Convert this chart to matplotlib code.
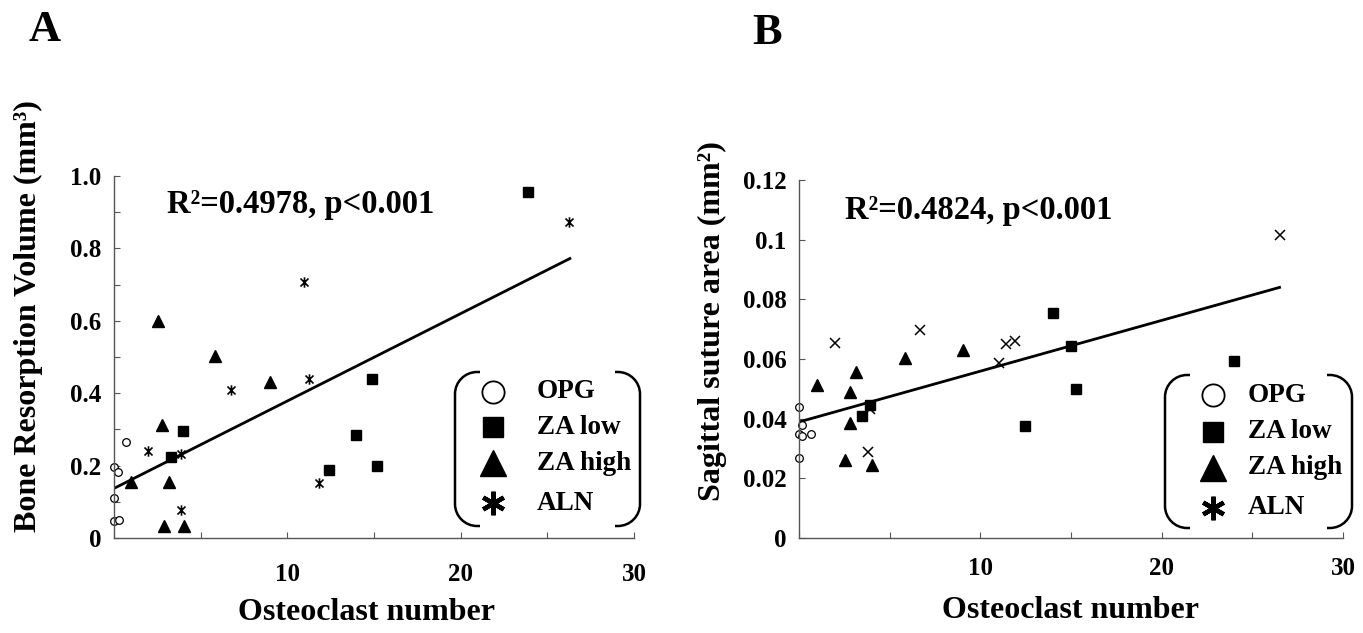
import matplotlib
matplotlib.use("Agg")
import matplotlib.pyplot as plt
from matplotlib.path import Path
from matplotlib.patches import PathPatch
from matplotlib.lines import Line2D

W, H = 1363, 633
plt.rcParams['font.family'] = ['Liberation Serif', 'DejaVu Serif']
plt.rcParams['font.weight'] = 'bold'

# panel A: bone resorption volume vs osteoclast number
opg_a_x = [0.67, 0.0, 0.25, 0.0, 0.0, 0.29]
opg_a_y = [0.265, 0.196, 0.182, 0.110, 0.046, 0.051]
zal_a_x = [3.27, 4.0, 12.42, 13.94, 14.9, 15.19, 23.9]
zal_a_y = [0.224, 0.295, 0.187, 0.284, 0.438, 0.198, 0.956]
zah_a_x = [0.96, 2.52, 2.79, 3.19, 2.88, 4.06, 5.83, 9.0]
zah_a_y = [0.155, 0.599, 0.313, 0.155, 0.033, 0.032, 0.502, 0.431]
aln_a_x = [1.98, 3.85, 3.85, 6.73, 10.98, 11.27, 11.85, 26.26]
aln_a_y = [0.240, 0.233, 0.078, 0.408, 0.707, 0.440, 0.152, 0.873]
fit_a_x = [0, 26.3]
fit_a_y = [0.137, 0.772]

# panel B: sagittal suture area vs osteoclast number
opg_b_x = [0.0, 0.0, 0.18, 0.18, 0.64, 0.0]
opg_b_y = [0.044, 0.035, 0.0378, 0.0342, 0.035, 0.0268]
zal_b_x = [3.47, 3.93, 12.48, 14.0, 15.02, 15.26, 24.0]
zal_b_y = [0.0408, 0.0445, 0.0375, 0.0753, 0.0644, 0.0499, 0.0593]
zah_b_x = [0.99, 2.79, 3.16, 2.79, 2.56, 4.03, 5.83, 9.04]
zah_b_y = [0.0512, 0.049, 0.0555, 0.0387, 0.0261, 0.0244, 0.0602, 0.063]
aln_b_x = [2.0, 6.65, 3.8, 3.93, 11.01, 11.43, 11.89, 26.5]
aln_b_y = [0.0655, 0.0697, 0.0289, 0.0431, 0.0587, 0.065, 0.0661, 0.1015]
fit_b_x = [0, 26.5]
fit_b_y = [0.0389, 0.084]

groups = ['OPG', 'ZA low', 'ZA high', 'ALN']
xtick_vals = [0, 5, 10, 15, 20, 25, 30]
xtick_labels = ['', '', '10', '', '20', '', '30']
ytick_a_vals = [0, 0.1, 0.2, 0.3, 0.4, 0.5, 0.6, 0.7, 0.8, 0.9, 1.0]
ytick_a_labels = ['0', '', '0.2', '', '0.4', '', '0.6', '', '0.8', '', '1.0']
ytick_b_vals = [0, 0.02, 0.04, 0.06, 0.08, 0.1, 0.12]
ytick_b_labels = ['0', '0.02', '0.04', '0.06', '0.08', '0.1', '0.12']

# excel-like star: X with a vertical bar
star = Path([(-1, -1), (1, 1), (-1, 1), (1, -1), (0, -1.3), (0, 1.3)],
            [Path.MOVETO, Path.LINETO, Path.MOVETO, Path.LINETO, Path.MOVETO, Path.LINETO])


def fx(px):
    return px / W


def fy(py):
    return 1 - py / H


def style_axes(ax, yvals, ylabels, ylim, xpad):
    ax.set_xlim(0, 30)
    ax.set_ylim(*ylim)
    for s in ['top', 'right']:
        ax.spines[s].set_visible(False)
    for s in ['left', 'bottom']:
        ax.spines[s].set_color('#555555')
        ax.spines[s].set_linewidth(1.0)
    ax.set_xticks(xtick_vals)
    ax.set_xticklabels(xtick_labels)
    ax.set_yticks(yvals)
    ax.set_yticklabels(ylabels)
    ax.tick_params(axis='both', direction='in', length=4.5, width=0.8,
                   color='#555555', labelsize=18)
    ax.tick_params(axis='x', pad=xpad)
    ax.tick_params(axis='y', pad=9)
    for lab in ax.get_xticklabels() + ax.get_yticklabels():
        lab.set_fontweight('bold')


def legend_box(x0, x1, ytop, ybot, rows):
    r = 22
    k = 0.55 * r
    tail = 3
    left = Path([(x0 + r + tail, ytop), (x0 + r, ytop), (x0 + r - k, ytop), (x0, ytop + r - k), (x0, ytop + r),
                 (x0, ybot - r), (x0, ybot - r + k), (x0 + r - k, ybot), (x0 + r, ybot), (x0 + r + tail, ybot)],
                [Path.MOVETO, Path.LINETO, Path.CURVE4, Path.CURVE4, Path.CURVE4,
                 Path.LINETO, Path.CURVE4, Path.CURVE4, Path.CURVE4, Path.LINETO])
    right = Path([(x1 - r - tail, ytop), (x1 - r, ytop), (x1 - r + k, ytop), (x1, ytop + r - k), (x1, ytop + r),
                  (x1, ybot - r), (x1, ybot - r + k), (x1 - r + k, ybot), (x1 - r, ybot), (x1 - r - tail, ybot)],
                 left.codes)
    for p in [left, right]:
        verts = [(fx(a), fy(b)) for a, b in p.vertices]
        fig.add_artist(PathPatch(Path(verts, p.codes), transform=fig.transFigure,
                                 fill=False, lw=1.8, ec='black'))
    mx, tx, ys = rows
    specs = [dict(marker='o', ms=16, mfc='white', mec='black', mew=1.3),
             dict(marker='s', ms=15, mfc='black', mec='black'),
             dict(marker='^', ms=19, mfc='black', mec='black'),
             dict(marker=(6, 2, 0), ms=17, mec='black', mew=3.2)]
    for name, spec, yy in zip(groups, specs, ys):
        fig.add_artist(Line2D([fx(mx)], [fy(yy)], transform=fig.transFigure, ls='none', **spec))
        fig.text(fx(tx), fy(yy), name, fontsize=19.5, fontweight='bold', ha='left', va='center')


fig = plt.figure(figsize=(W / 100, H / 100), dpi=100)

# ---- panel A
axa = fig.add_axes([fx(114), fy(538), fx(634) - fx(114), fy(176) - fy(538)])
axa.plot(fit_a_x, fit_a_y, color='black', lw=2.0)
axa.plot(opg_a_x, opg_a_y, 'o', ms=5.5, mfc='white', mec='black', mew=0.9, clip_on=False)
axa.plot(zal_a_x, zal_a_y, 's', ms=7.5, color='black', clip_on=False)
axa.plot(zah_a_x, zah_a_y, '^', ms=9, color='black', clip_on=False)
axa.plot(aln_a_x, aln_a_y, ls='none', marker=star, ms=7.5, mec='black', mew=1.2, clip_on=False)
style_axes(axa, ytick_a_vals, ytick_a_labels, (0, 1.0), 18)
fig.text(fx(167), fy(204), 'R²=0.4978, p<0.001', fontsize=23.5, fontweight='bold', ha='left', va='center')
fig.text(fx(366), fy(613), 'Osteoclast number', fontsize=23, fontweight='bold', ha='center', va='center')
fig.text(fx(28), fy(316), 'Bone Resorption Volume (mm³)', fontsize=23, fontweight='bold',
         ha='center', va='center', rotation=90)
fig.text(fx(45), fy(30), 'A', fontsize=32, fontweight='bold', ha='center', va='center')
legend_box(455, 640, 372, 526, (493, 537, [392, 427, 463, 503]))

# ---- panel B
axb = fig.add_axes([fx(799), fy(538), fx(1343) - fx(799), fy(180) - fy(538)])
axb.plot(fit_b_x, fit_b_y, color='black', lw=2.0)
axb.plot(opg_b_x, opg_b_y, 'o', ms=5.5, mfc='white', mec='black', mew=0.9, clip_on=False)
axb.plot(zal_b_x, zal_b_y, 's', ms=7.5, color='black', clip_on=False)
axb.plot(zah_b_x, zah_b_y, '^', ms=9, color='black', clip_on=False)
axb.plot(aln_b_x, aln_b_y, 'x', ms=7, mec='black', mew=1.1, clip_on=False)
style_axes(axb, ytick_b_vals, ytick_b_labels, (0, 0.12), 14)
fig.text(fx(845), fy(211), 'R²=0.4824, p<0.001', fontsize=23.5, fontweight='bold', ha='left', va='center')
fig.text(fx(1071), fy(610), 'Osteoclast number', fontsize=23, fontweight='bold', ha='center', va='center')
fig.text(fx(712), fy(321), 'Sagittal suture area (mm²)', fontsize=23, fontweight='bold',
         ha='center', va='center', rotation=90)
fig.text(fx(767), fy(33), 'B', fontsize=32, fontweight='bold', ha='center', va='center')
legend_box(1165, 1352, 375, 528, (1213, 1248, [395, 432, 468, 508]))

fig.savefig('out.png', dpi=100)
